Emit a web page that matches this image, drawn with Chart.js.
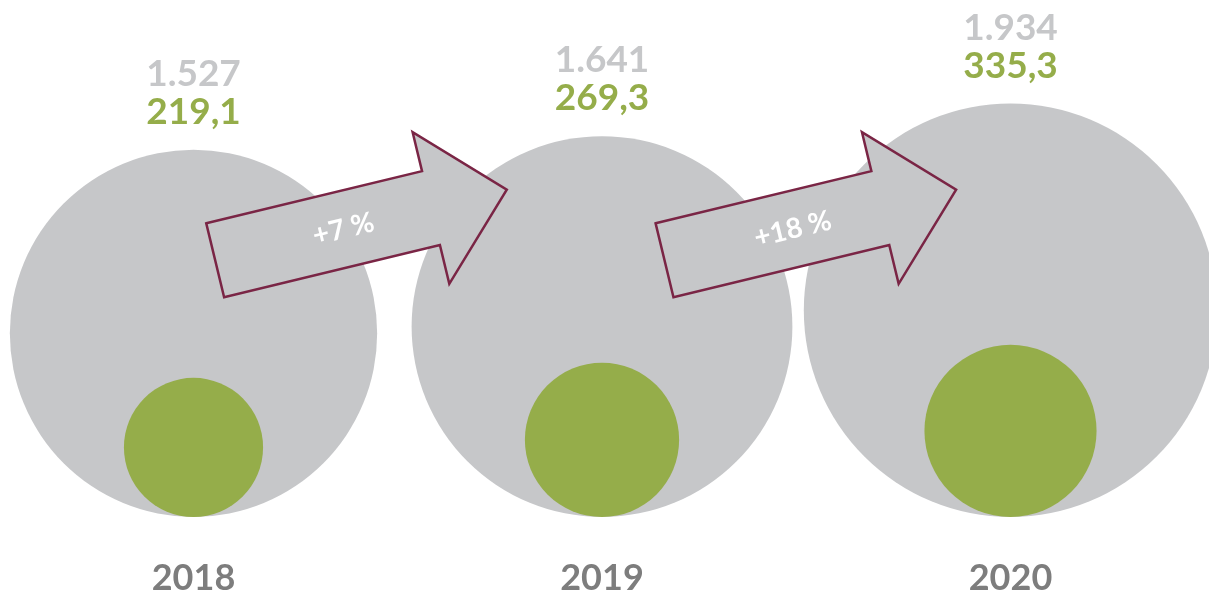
<!DOCTYPE html>
<html>
<head>
<meta charset="utf-8">
<script src="https://cdn.jsdelivr.net/npm/chart.js@4.4.0/dist/chart.umd.min.js"></script>
<style>
  html, body { margin: 0; padding: 0; background: #fff; }
  #wrap { width: 1209px; height: 594px; }
</style>
</head>
<body>
<div id="wrap"><canvas id="growth"></canvas></div>
<script>
const years = [2018, 2019, 2020];
const totalValues = [1527, 1641, 1934];
const shareValues = [219.1, 269.3, 335.3];

const GREY = '#c6c7c9';
const GREEN = '#95ad4a';
const MAROON = '#7a2545';
const YEAR_GREY = '#7d7d7d';
const FONT = 'Lato, "Open Sans", sans-serif';

const PX_PER_SQRT = 4.7;  // bubble radius per sqrt(value), area follows the value
const BASE = 77;          // room under the bubbles for the year labels

function radius(v) { return PX_PER_SQRT * Math.sqrt(v); }
function fmtInt(v) { return String(v).replace(/\B(?=(\d{3})+(?!\d))/g, '.'); }
function fmtDec(v) { return v.toFixed(1).replace('.', ','); }

// y axis is 1 unit per pixel, so a centre at y = r puts every bubble on the baseline
const totalPoints = years.map((yr, i) => ({ x: yr, y: radius(totalValues[i]), r: radius(totalValues[i]) }));
const sharePoints = years.map((yr, i) => ({ x: yr, y: radius(shareValues[i]), r: radius(shareValues[i]) }));

// growth arrows between neighbouring years
const arrowSpots = [0.41, 0.51];
const ARROW = { len: 300, head: 78, shaftHalf: 38, headHalf: 78, angle: -13.6 * Math.PI / 180, y: 292 };

const labelsPlugin = {
  id: 'labels',
  afterDatasetsDraw(chart) {
    const ctx = chart.ctx;
    const xs = chart.scales.x, ys = chart.scales.y;

    // arrows
    for (let i = 0; i < years.length - 1; i++) {
      const x0 = xs.getPixelForValue(years[i]);
      const x1 = xs.getPixelForValue(years[i + 1]);
      const cx = x0 + (x1 - x0) * arrowSpots[i];
      const cy = ys.getPixelForValue(ARROW.y);
      const half = ARROW.len / 2, hs = half - ARROW.head;
      ctx.save();
      ctx.translate(cx, cy);
      ctx.rotate(ARROW.angle);
      ctx.beginPath();
      ctx.moveTo(-half, -ARROW.shaftHalf);
      ctx.lineTo(hs, -ARROW.shaftHalf);
      ctx.lineTo(hs, -ARROW.headHalf);
      ctx.lineTo(half, 0);
      ctx.lineTo(hs, ARROW.headHalf);
      ctx.lineTo(hs, ARROW.shaftHalf);
      ctx.lineTo(-half, ARROW.shaftHalf);
      ctx.closePath();
      ctx.fillStyle = GREY;
      ctx.fill();
      ctx.lineWidth = 2.5;
      ctx.lineJoin = 'miter';
      ctx.strokeStyle = MAROON;
      ctx.stroke();
      const pct = Math.round((totalValues[i + 1] / totalValues[i] - 1) * 100);
      ctx.fillStyle = '#ffffff';
      ctx.font = 'bold 28px ' + FONT;
      ctx.textAlign = 'center';
      ctx.textBaseline = 'middle';
      ctx.fillText('+' + pct + ' %', -18, 0);
      ctx.restore();
    }

    // values above each bubble and year below
    ctx.save();
    ctx.textAlign = 'center';
    ctx.textBaseline = 'alphabetic';
    years.forEach((yr, i) => {
      const x = xs.getPixelForValue(yr);
      const r = radius(totalValues[i]);
      const top = ys.getPixelForValue(r) - r;
      ctx.font = 'bold 37px ' + FONT;
      ctx.fillStyle = GREY;
      ctx.fillText(fmtInt(totalValues[i]), x, top - 64);
      ctx.fillStyle = GREEN;
      ctx.fillText(fmtDec(shareValues[i]), x, top - 26);
      ctx.font = 'bold 36px ' + FONT;
      ctx.fillStyle = YEAR_GREY;
      ctx.fillText(String(yr), x, 590);
    });
    ctx.restore();
  }
};

new Chart(document.getElementById('growth'), {
  type: 'bubble',
  data: {
    datasets: [
      { label: 'Gesamt', data: totalPoints, backgroundColor: GREY, borderWidth: 0, order: 2, clip: false },
      { label: 'Anteil', data: sharePoints, backgroundColor: GREEN, borderWidth: 0, order: 1, clip: false }
    ]
  },
  options: {
    responsive: true,
    maintainAspectRatio: false,
    animation: false,
    events: [],
    layout: { padding: 0, autoPadding: false },
    plugins: { legend: { display: false }, tooltip: { enabled: false } },
    scales: {
      x: { type: 'linear', display: false, min: 2019 - 602 / 408.5, max: 2019 + (1209 - 602) / 408.5 },
      y: { type: 'linear', display: false, min: -BASE, max: 594 - BASE }
    }
  },
  plugins: [labelsPlugin]
});
</script>
</body>
</html>
